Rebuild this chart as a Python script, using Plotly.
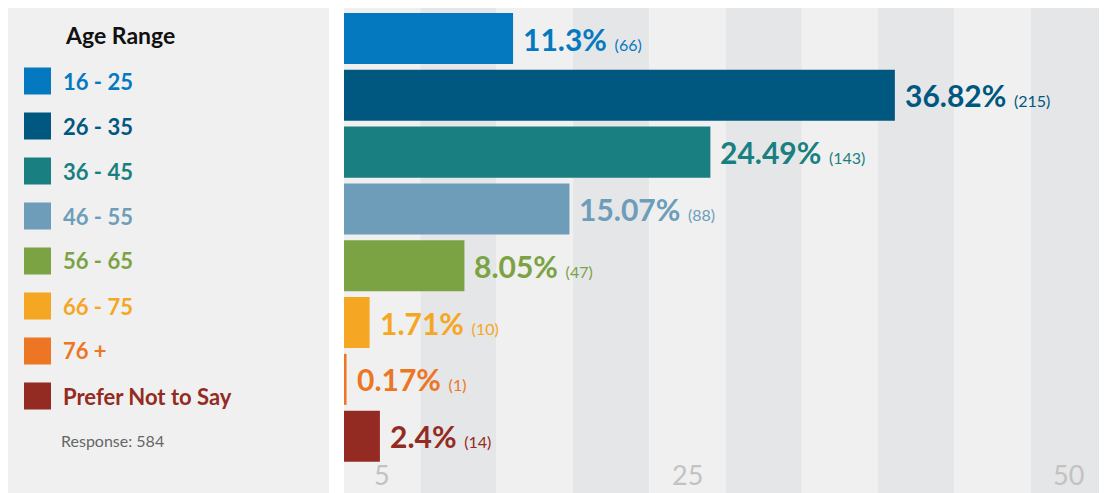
import plotly.graph_objects as go

categories = ["16 - 25", "26 - 35", "36 - 45", "46 - 55", "56 - 65", "66 - 75", "76 +", "Prefer Not to Say"]
percents = [11.3, 36.82, 24.49, 15.07, 8.05, 1.71, 0.17, 2.4]
counts = [66, 215, 143, 88, 47, 10, 1, 14]
colors = ["#0579C0", "#00577F", "#1A7F80", "#6D9DB9", "#7BA344", "#F5A623", "#EC7624", "#942B22"]
tick_labels = ["5", "25", "50"]
tick_band_index = [0, 4, 9]
legend_title = "Age Range"
response_text = "Response: 584"

# page body adds an 8px offset; work in reference pixel coordinates and shift
OFF = 8
W, H = 1107 - OFF, 493 - OFF
FONT = "Lato"


def px(x):
    return (x - OFF) / W


def py(y):
    return (H - (y - OFF)) / H


fig = go.Figure()
fig.add_trace(go.Bar(
    x=percents, y=categories, orientation="h",
    marker=dict(color=colors, line=dict(width=0)),
    width=0.898, hoverinfo="skip", showlegend=False,
))

shapes = []
# left panel background
shapes.append(dict(type="rect", xref="paper", yref="paper", x0=0, x1=px(329), y0=0, y1=1,
                   fillcolor="#F0F0F0", line=dict(width=0), layer="below"))
# alternating bands
n_bands = 10
for i in range(n_bands):
    shapes.append(dict(type="rect", xref="x domain", yref="y domain", x0=i / n_bands, x1=(i + 1) / n_bands,
                       y0=0, y1=1, fillcolor="#F0F0F0" if i % 2 == 0 else "#E5E6E8",
                       line=dict(width=0), layer="below"))

annotations = []
annotations.append(dict(xref="paper", yref="paper", x=px(63), y=py(35), text="<b>" + legend_title + "</b>",
                        showarrow=False, xanchor="left", yanchor="middle",
                        font=dict(family=FONT, size=23, color="#111111")))
for i, (c, col) in enumerate(zip(categories, colors)):
    cy = 81 + 45 * i
    shapes.append(dict(type="rect", xref="paper", yref="paper", x0=px(24), x1=px(51),
                       y0=py(cy + 13.5), y1=py(cy - 13.5), fillcolor=col, line=dict(width=0)))
    annotations.append(dict(xref="paper", yref="paper", x=px(61), y=py(cy), text="<b>" + c + "</b>",
                            showarrow=False, xanchor="left", yanchor="middle",
                            font=dict(family=FONT, size=22, color=col)))
annotations.append(dict(xref="paper", yref="paper", x=px(59), y=py(440), text=response_text,
                        showarrow=False, xanchor="left", yanchor="middle",
                        font=dict(family=FONT, size=16, color="#666666")))

# value labels
for c, p, n, col in zip(categories, percents, counts, colors):
    annotations.append(dict(xref="x", yref="y", x=p, y=c, xshift=8,
                            text="<b>%s%%</b> <span style='font-size:16px'>(%d)</span>" % (p, n),
                            showarrow=False, xanchor="left", yanchor="middle",
                            font=dict(family=FONT, size=30, color=col)))

# band tick labels
for t, bi in zip(tick_labels, tick_band_index):
    annotations.append(dict(xref="x domain", yref="paper", x=(bi + 0.5) / n_bands, y=0, text=t,
                            showarrow=False, xanchor="center", yanchor="bottom",
                            font=dict(family=FONT, size=27, color="#C2C2C2")))

fig.update_layout(
    width=W, height=H,
    margin=dict(l=0, r=0, t=0, b=0),
    paper_bgcolor="white", plot_bgcolor="white",
    xaxis=dict(domain=[px(344), 1], range=[0, 51], showgrid=False, zeroline=False,
               showticklabels=False, fixedrange=True),
    yaxis=dict(range=[8.0, -0.537], showgrid=False, zeroline=False, showticklabels=False,
               fixedrange=True, type="category", categoryorder="array", categoryarray=categories),
    shapes=shapes, annotations=annotations,
    font=dict(family=FONT),
)

fig.write_html("out.html")
